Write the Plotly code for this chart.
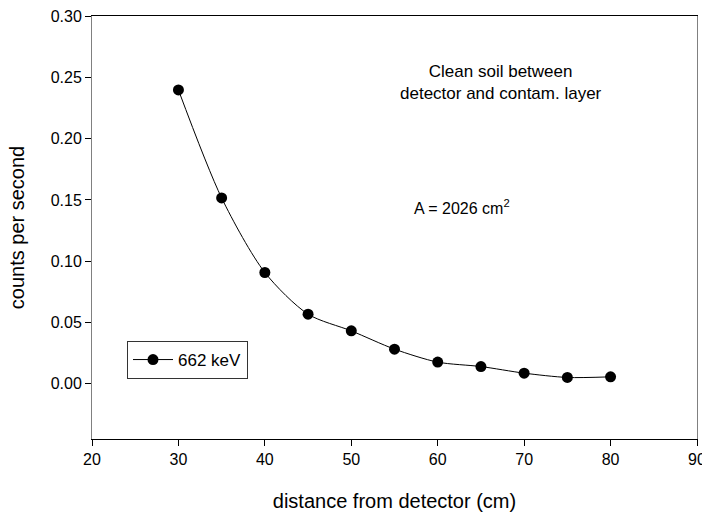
import plotly.graph_objects as go

distance = [30, 35, 40, 45, 50, 55, 60, 65, 70, 75, 80]
cps = [0.2397, 0.1516, 0.0908, 0.0568, 0.0432, 0.0283, 0.0177, 0.0141, 0.0087, 0.0052, 0.0057]
series_name = "662 keV"
y_ticks = [0.00, 0.05, 0.10, 0.15, 0.20, 0.25, 0.30]
x_ticks = [20, 30, 40, 50, 60, 70, 80, 90]

font = "Liberation Sans, Arial, sans-serif"
L, R, T, B = 92, 697, 16, 439
W, H = R - L, B - T

fig = go.Figure()
fig.add_trace(go.Scatter(
    x=distance, y=cps, name=series_name, mode="lines+markers",
    line=dict(color="black", width=1, shape="spline", smoothing=0.8),
    marker=dict(color="black", size=11),
))

fig.update_layout(
    width=702, height=513,
    margin=dict(l=L, r=702 - R, t=T, b=513 - B),
    paper_bgcolor="white", plot_bgcolor="white",
    font=dict(family=font, size=16, color="black"),
    showlegend=True,
    legend=dict(x=(127 - L) / W, y=(B - 341) / H, xanchor="left", yanchor="top",
                bordercolor="#333333", borderwidth=1, bgcolor="white",
                font=dict(size=17), itemwidth=40,
                tracegroupgap=0),
    xaxis=dict(range=[20, 90], tickvals=x_ticks, ticks="outside", ticklen=6,
               tickcolor="black", showline=True, linecolor="black", linewidth=1,
               mirror=True, showgrid=False, zeroline=False,
               tickfont=dict(size=16), ticklabeloverflow="allow", automargin=False,
               title=dict(text="distance from detector (cm)", font=dict(size=20), standoff=26)),
    yaxis=dict(range=[-0.045, 0.30], tickvals=y_ticks, tickformat=".2f",
               ticks="outside", ticklen=6, tickcolor="black",
               showline=True, linecolor="#808080", linewidth=1, mirror=True,
               showgrid=False, zeroline=False, automargin=False,
               tickfont=dict(size=16),
               title=dict(text="counts per second", font=dict(size=20), standoff=20)),
)

fig.add_annotation(x=(501 - L) / W, y=(B - 82) / H, xref="paper", yref="paper",
                   xanchor="center", yanchor="middle",
                   text="Clean soil between<br>detector and contam. layer",
                   showarrow=False, font=dict(size=17), align="center")
fig.add_annotation(x=(462 - L) / W, y=(B - 207) / H, xref="paper", yref="paper",
                   xanchor="center", yanchor="middle",
                   text="A = 2026 cm<sup>2</sup>", showarrow=False, font=dict(size=16))

fig.write_html("out.html")
